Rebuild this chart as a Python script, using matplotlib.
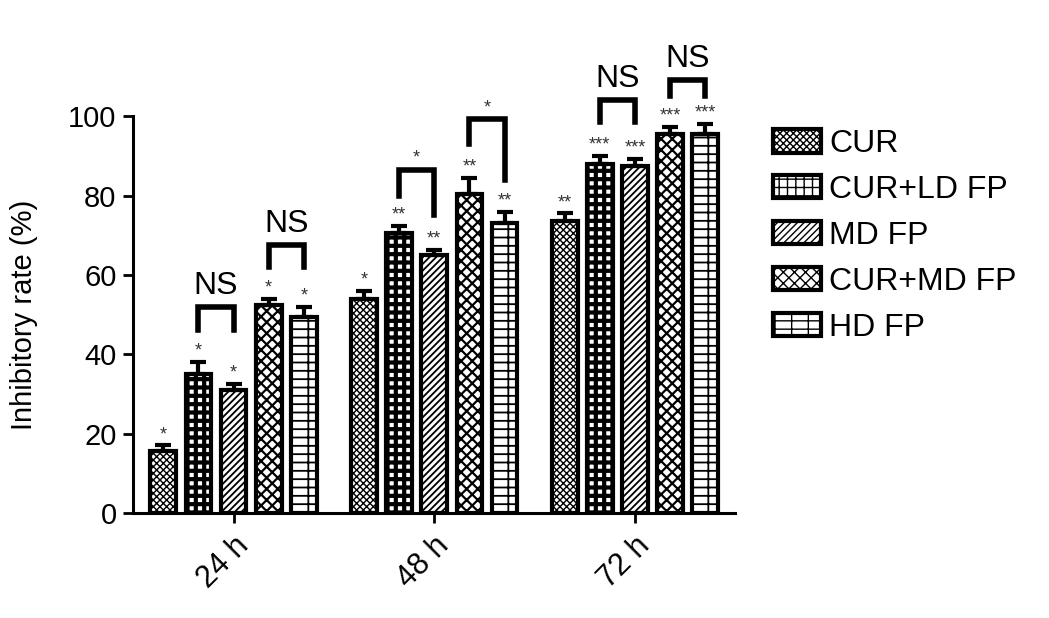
import matplotlib
matplotlib.use("Agg")
import matplotlib.pyplot as plt
import numpy as np
from matplotlib.patches import Patch

plt.rcParams['font.family'] = ['Liberation Sans', 'DejaVu Sans']

groups = ["24 h", "48 h", "72 h"]
series = ["CUR", "CUR+LD FP", "MD FP", "CUR+MD FP", "HD FP"]
values = [
    [15.5, 54.0, 73.5],   # CUR
    [35.0, 70.5, 88.0],   # CUR+LD FP
    [31.0, 65.0, 87.5],   # MD FP
    [52.5, 80.5, 95.5],   # CUR+MD FP
    [49.5, 73.0, 95.5],   # HD FP
]
errors = [
    [1.5, 2.0, 2.0],
    [3.0, 1.8, 2.0],
    [1.5, 1.2, 1.8],
    [1.5, 4.0, 1.8],
    [2.5, 2.8, 2.5],
]
stars = [
    ["*", "*", "**"],
    ["*", "**", "***"],
    ["*", "**", "***"],
    ["*", "**", "***"],
    ["*", "**", "***"],
]
# (group, left series, right series, label, top, left leg end, right leg end)
brackets = [
    (0, 1, 2, "NS", 51.8, 46.0, 46.0),
    (0, 3, 4, "NS", 67.5, 62.0, 62.0),
    (1, 1, 2, "*", 86.4, 80.0, 75.0),
    (1, 3, 4, "*", 99.2, 93.0, 84.0),
    (2, 1, 2, "NS", 104.0, 98.5, 98.5),
    (2, 3, 4, "NS", 109.0, 105.0, 105.0),
]
hatches = ["xxxxx", "++", "/////", "xxx", "--|"]
hatch_lw = [1.0, 3.0, 1.3, 1.6, 1.3]

fig = plt.figure(figsize=(10.49, 6.18), dpi=100)
ax = fig.add_axes([0.127, 0.170, 0.574, 0.642])

step = 0.175
width = 0.128
xg = np.arange(len(groups))
for i, name in enumerate(series):
    xs = xg + (i - 2) * step
    hlw = hatch_lw[i]
    with plt.rc_context({'hatch.linewidth': hlw}):
        bars = ax.bar(xs, values[i], width=width, color='white', edgecolor='black',
                      linewidth=3, hatch=hatches[i], zorder=2)
    for b in bars:
        if hasattr(b, 'set_hatch_linewidth'):
            b.set_hatch_linewidth(hlw)
    ax.errorbar(xs, values[i], yerr=[np.zeros(len(groups)), errors[i]], fmt='none',
                ecolor='black', elinewidth=3, capsize=6, capthick=3, zorder=3)
    for g in range(len(groups)):
        ax.text(xs[g], values[i][g] + errors[i][g] + 0.6, stars[i][g], ha='center',
                va='bottom', fontsize=13, color='#333333', clip_on=False)

for g, a, b, lab, top, yl, yr in brackets:
    xa = g + (a - 2) * step
    xb = g + (b - 2) * step
    ax.plot([xa, xa, xb, xb], [yl, top, top, yr], color='black', lw=4,
            solid_joinstyle='miter', clip_on=False, zorder=4)
    if lab == "NS":
        ax.text((xa + xb) / 2, top + 1.6, lab, ha='center', va='bottom', fontsize=23,
                clip_on=False)
    else:
        ax.text((xa + xb) / 2, top + 0.8, lab, ha='center', va='bottom', fontsize=13,
                color='#333333', clip_on=False)

ax.set_xlim(-0.5, 2.5)
ax.set_ylim(0, 100)
ax.set_yticks([0, 20, 40, 60, 80, 100])
ax.set_xticks(xg)
ax.set_xticklabels(groups, rotation=45, ha='right', rotation_mode='anchor', fontsize=22)
ax.tick_params(axis='y', labelsize=21, width=2, length=7, pad=5)
ax.tick_params(axis='x', width=2, length=7, pad=6)
ax.set_ylabel("Inhibitory rate (%)", fontsize=21, labelpad=22)
for s in ['top', 'right']:
    ax.spines[s].set_visible(False)
for s in ['left', 'bottom']:
    ax.spines[s].set_linewidth(2.2)

handles = []
for i, name in enumerate(series):
    with plt.rc_context({'hatch.linewidth': hatch_lw[i]}):
        p = Patch(facecolor='white', edgecolor='black', linewidth=3, hatch=hatches[i], label=name)
    if hasattr(p, 'set_hatch_linewidth'):
        p.set_hatch_linewidth(hatch_lw[i])
    handles.append(p)
leg = fig.legend(handles=handles, loc='upper left', bbox_to_anchor=(0.725, 0.812), frameon=False,
                 fontsize=23, handlelength=1.5, handleheight=0.75, labelspacing=0.5,
                 handletextpad=0.25, borderaxespad=0)

fig.savefig("out.png", dpi=100)
